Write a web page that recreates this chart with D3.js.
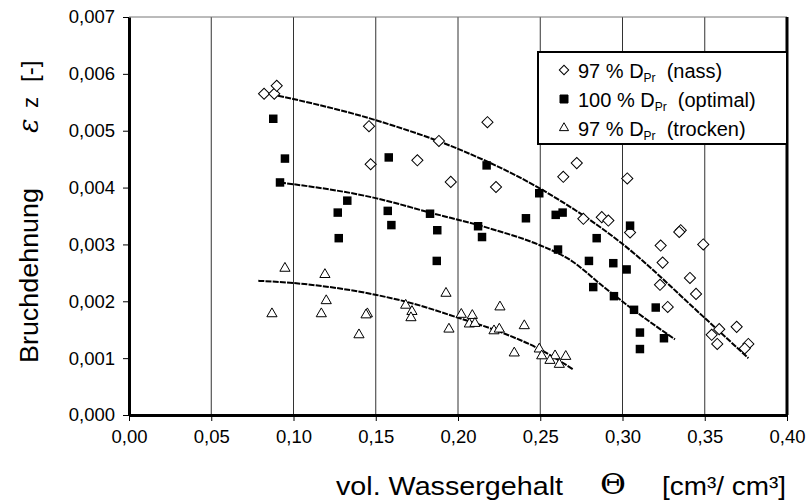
<!DOCTYPE html>
<html lang="de">
<head>
<meta charset="utf-8" />
<script src="https://cdn.jsdelivr.net/npm/d3@7"></script>
<style>
    body { margin: 0; background: #fff; }
    text { font-family: "Liberation Sans", Arial, sans-serif; fill: #000; white-space: pre; }
    .tick text { font-size: 18.5px; }
</style>
</head>
<body>
<script>
// measured points [vol. Wassergehalt, Bruchdehnung]
var nass = [
    [0.0821, 0.00565], [0.0883, 0.00565], [0.0898, 0.00579], [0.1459, 0.00508],
    [0.1469, 0.00441], [0.1753, 0.00448], [0.1884, 0.00482], [0.1956, 0.00410],
    [0.2179, 0.00515], [0.2231, 0.00401], [0.2640, 0.00419], [0.2722, 0.00443],
    [0.2762, 0.00345], [0.2874, 0.00348], [0.2914, 0.00342], [0.3029, 0.00416],
    [0.3046, 0.00321], [0.3354, 0.00325], [0.3345, 0.00322], [0.3232, 0.00298],
    [0.3491, 0.00300], [0.3244, 0.00268], [0.3410, 0.00241], [0.3228, 0.00229],
    [0.3447, 0.00213], [0.3275, 0.00190], [0.3694, 0.00155], [0.3588, 0.00151],
    [0.3542, 0.00141], [0.3576, 0.00125], [0.3765, 0.00125], [0.3743, 0.00117]
];
var optimal = [
    [0.0877, 0.00521], [0.0948, 0.00451], [0.0918, 0.00409], [0.1327, 0.00377],
    [0.1269, 0.00356], [0.1275, 0.00311], [0.1579, 0.00453], [0.1573, 0.00359],
    [0.1595, 0.00334], [0.1830, 0.00354], [0.1874, 0.00325], [0.1871, 0.00271],
    [0.2174, 0.00439], [0.2122, 0.00332], [0.2146, 0.00313], [0.2413, 0.00346],
    [0.2494, 0.00390], [0.2594, 0.00352], [0.2636, 0.00356], [0.2608, 0.00291],
    [0.2843, 0.00311], [0.2796, 0.00271], [0.2944, 0.00267], [0.3025, 0.00256],
    [0.2822, 0.00225], [0.2948, 0.00209], [0.3070, 0.00185], [0.3046, 0.00333],
    [0.3202, 0.00189], [0.3106, 0.00145], [0.3252, 0.00135], [0.3106, 0.00116]
];
var trocken = [
    [0.0948, 0.00258], [0.0869, 0.00178], [0.1191, 0.00247], [0.1199, 0.00201],
    [0.1169, 0.00178], [0.1398, 0.00141], [0.1449, 0.00178], [0.1441, 0.00176],
    [0.1682, 0.00193], [0.1720, 0.00182], [0.1714, 0.00171], [0.1927, 0.00214],
    [0.1945, 0.00151], [0.2020, 0.00177], [0.2087, 0.00175], [0.2069, 0.00160],
    [0.2103, 0.00161], [0.2255, 0.00190], [0.2219, 0.00148], [0.2251, 0.00151],
    [0.2403, 0.00157], [0.2342, 0.00109], [0.2494, 0.00116], [0.2509, 0.00104],
    [0.2590, 0.00104], [0.2655, 0.00103], [0.2559, 0.00096], [0.2616, 0.00089]
];

// trend lines
var trendNass = [[0.0821, 0.00567], [0.1506, 0.00518], [0.1992, 0.00469], [0.2494, 0.00399],
    [0.2995, 0.00302], [0.3491, 0.00173], [0.3765, 0.00100]];
var trendOptimal = [[0.0918, 0.00409], [0.1506, 0.00381], [0.1830, 0.00356], [0.2195, 0.00328],
    [0.2494, 0.00299], [0.2681, 0.00273], [0.2883, 0.00226], [0.3066, 0.00185], [0.3319, 0.00133]];
var trendTrocken = [[0.0786, 0.00236], [0.1005, 0.00232], [0.1506, 0.00211], [0.1688, 0.00199],
    [0.2002, 0.00171], [0.2275, 0.00144], [0.2494, 0.00116], [0.2701, 0.00080]];

var xTicks = [0, 0.05, 0.10, 0.15, 0.20, 0.25, 0.30, 0.35, 0.40];
var yTicks = [0, 0.001, 0.002, 0.003, 0.004, 0.005, 0.006, 0.007];
var legendLabels = [["97 % D", "Pr", "  (nass)"], ["100 % D", "Pr", "  (optimal)"], ["97 % D", "Pr", "  (trocken)"]];

var width = 808, height = 501;
var margin = { top: 17, right: 21, bottom: 86, left: 129 };
var w = width - margin.left - margin.right,
    h = height - margin.top - margin.bottom;

var svg = d3.select("body").append("svg")
    .attr("width", width)
    .attr("height", height);

var g = svg.append("g")
    .attr("transform", "translate(" + margin.left + "," + margin.top + ")");

var x = d3.scaleLinear().domain([0, 0.4]).range([0, w]);
var y = d3.scaleLinear().domain([0, 0.007]).range([h, 0]);

var comma = function (f) { return function (d) { return d3.format(f)(d).replace(".", ","); }; };

// vertical grid
g.selectAll(".grid").data(xTicks.slice(1, -1)).enter().append("line")
    .attr("x1", function (d) { return x(d); })
    .attr("x2", function (d) { return x(d); })
    .attr("y1", 0).attr("y2", h)
    .attr("stroke", "#333").attr("stroke-width", 1);

// top border (thin)
g.append("line").attr("x1", 0).attr("x2", w).attr("y1", 0).attr("y2", 0)
    .attr("stroke", "#777").attr("stroke-width", 1);

var xAxis = g.append("g")
    .attr("transform", "translate(0," + h + ")")
    .call(d3.axisBottom(x).tickValues(xTicks).tickFormat(comma(".2f")).tickSize(6).tickSizeOuter(0));
xAxis.select(".domain").attr("stroke-width", 3);
xAxis.selectAll(".tick text").attr("dy", "1.05em");

var yAxis = g.append("g")
    .call(d3.axisLeft(y).tickValues(yTicks).tickFormat(comma(".3f")).tickSize(6).tickSizeOuter(0));
yAxis.select(".domain").attr("stroke-width", 3);
yAxis.selectAll(".tick text").attr("x", -14);

// right border
g.append("line").attr("x1", w).attr("x2", w).attr("y1", 0).attr("y2", h)
    .attr("stroke", "#000").attr("stroke-width", 3);

// trend lines
var line = d3.line()
    .x(function (d) { return x(d[0]); })
    .y(function (d) { return y(d[1]); })
    .curve(d3.curveMonotoneX);

[trendNass, trendOptimal, trendTrocken].forEach(function (t) {
    g.append("path").datum(t)
        .attr("d", line)
        .attr("fill", "none")
        .attr("stroke", "#000")
        .attr("stroke-width", 2)
        .attr("stroke-dasharray", "6,1.2");
});

// markers
var diamond = d3.symbol().type(d3.symbolSquare).size(62);
var square = d3.symbol().type(d3.symbolSquare).size(72);
var triangle = d3.symbol().type(d3.symbolTriangle).size(45);

g.selectAll(".nass").data(nass).enter().append("path")
    .attr("d", diamond)
    .attr("transform", function (d) { return "translate(" + x(d[0]) + "," + y(d[1]) + ") rotate(45)"; })
    .attr("fill", "#fff").attr("stroke", "#000").attr("stroke-width", 1);

g.selectAll(".opt").data(optimal).enter().append("path")
    .attr("d", square)
    .attr("transform", function (d) { return "translate(" + x(d[0]) + "," + y(d[1]) + ")"; })
    .attr("fill", "#000");

g.selectAll(".tro").data(trocken).enter().append("path")
    .attr("d", triangle)
    .attr("transform", function (d) { return "translate(" + x(d[0]) + "," + y(d[1]) + ")"; })
    .attr("fill", "#fff").attr("stroke", "#000").attr("stroke-width", 1);

// legend
var lg = svg.append("g").attr("transform", "translate(538,52)");
lg.append("rect").attr("width", 249).attr("height", 92)
    .attr("fill", "#fff").attr("stroke", "#000").attr("stroke-width", 2);

var symbols = [
    d3.symbol().type(d3.symbolSquare).size(44),
    d3.symbol().type(d3.symbolSquare).size(64),
    d3.symbol().type(d3.symbolTriangle).size(36)
];
legendLabels.forEach(function (lab, i) {
    var cy = 18 + i * 29;
    lg.append("path").attr("d", symbols[i])
        .attr("transform", "translate(26," + cy + ")" + (i === 0 ? " rotate(45)" : ""))
        .attr("stroke", "#000").attr("stroke-width", 1)
        .attr("fill", i === 1 ? "#000" : "#fff");
    var t = lg.append("text")
        .attr("x", 40).attr("y", cy + 8)
        .style("font-size", "20px");
    t.append("tspan").text(lab[0]);
    t.append("tspan").attr("dy", 4).style("font-size", "12px").text(lab[1]);
    t.append("tspan").attr("dy", -4).text(lab[2]);
});

// axis titles (pieces placed along the left edge, rotated)
function vText(txt, ybot, size, fam) {
    return svg.append("text")
        .attr("transform", "translate(38," + ybot + ") rotate(-90)")
        .style("font-size", size + "px")
        .style("font-family", fam || null)
        .text(txt);
}
vText("Bruchdehnung", 363, 25).attr("textLength", 175).attr("lengthAdjust", "spacingAndGlyphs");
vText("ε", 133, 27, "'DejaVu Serif', serif").style("font-style", "italic");
vText("z", 108, 22);
vText("[-]", 82, 24);

svg.append("text").attr("x", 336).attr("y", 495)
    .attr("textLength", 227).attr("lengthAdjust", "spacingAndGlyphs")
    .style("font-size", "25px").text("vol. Wassergehalt");
svg.append("text").attr("x", 600).attr("y", 494)
    .attr("textLength", 26).attr("lengthAdjust", "spacingAndGlyphs")
    .style("font-size", "27px").style("font-family", "'DejaVu Serif', serif").text("Θ");
svg.append("text").attr("x", 662).attr("y", 495)
    .attr("textLength", 124).attr("lengthAdjust", "spacingAndGlyphs")
    .style("font-size", "25px").text("[cm³/ cm³]");
</script>
</body>
</html>
